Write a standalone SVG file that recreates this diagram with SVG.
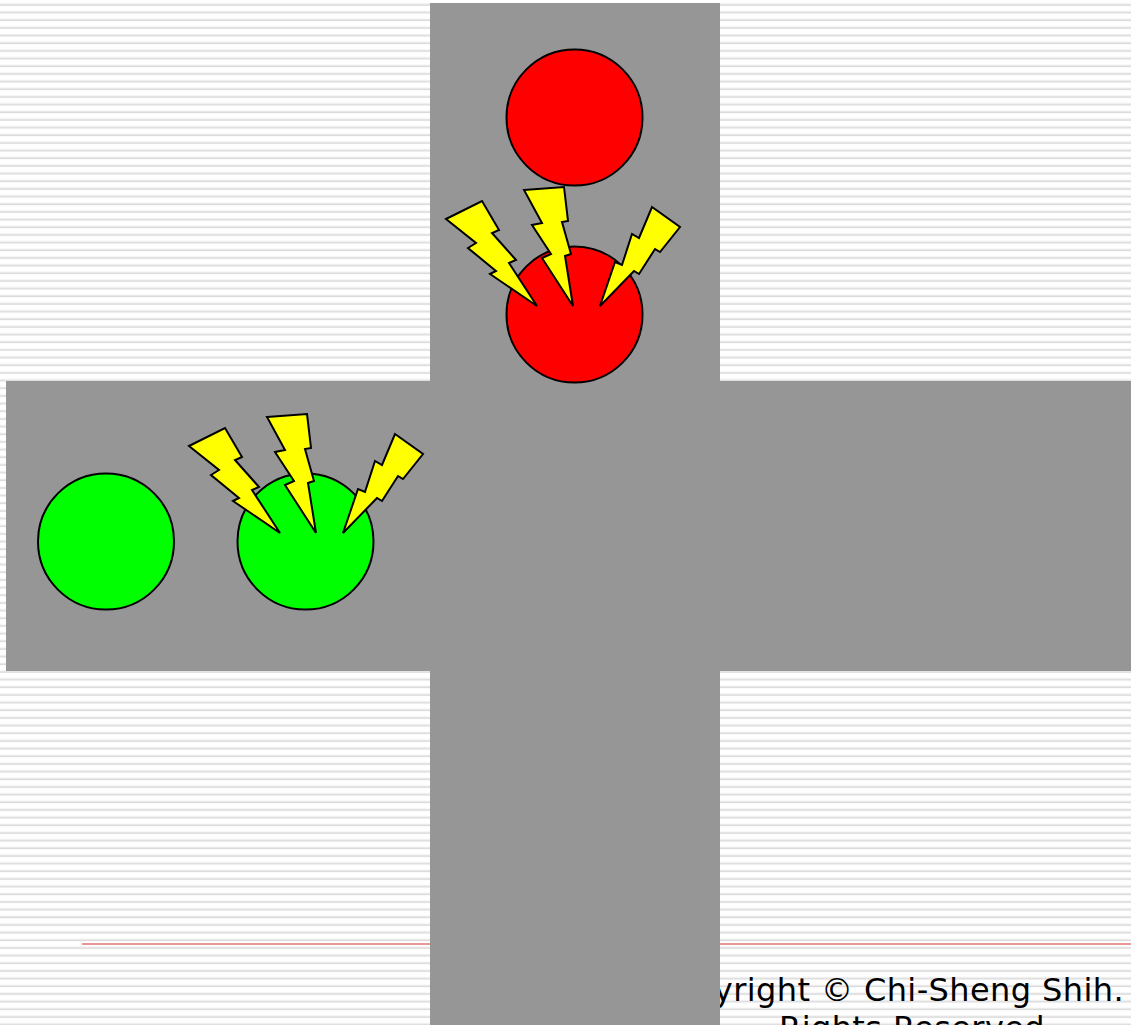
<svg xmlns="http://www.w3.org/2000/svg" xmlns:xlink="http://www.w3.org/1999/xlink" width="1131" height="1025" viewBox="0 0 1131 1025">
<style>
.road{fill:#969696}
.red{fill:#ff0000;stroke:#000;stroke-width:2}
.green{fill:#00ff00;stroke:#000;stroke-width:2}
.bolt{fill:#ffff00;stroke:#000;stroke-width:2;stroke-linejoin:miter}
.copy{font-family:"DejaVu Sans","Verdana",sans-serif;font-size:32px;fill:#000;letter-spacing:0.4px}
</style>
<defs>
<pattern id="stripes" patternUnits="userSpaceOnUse" width="20" height="7.667">
<rect x="0" y="0" width="20" height="7.667" fill="#ffffff"/>
<rect x="0" y="3.6" width="20" height="1" fill="#e6e6e6"/>
<rect x="0" y="4.6" width="20" height="1.2" fill="#dadada"/>
</pattern>
<g id="bolts">
<polygon class="bolt" points="446,219 482,201 499,230 492,233 516,260 509,263 537,306 490,274 496,271 468,248 476,243"/>
<polygon class="bolt" points="524,190 564,187 568,221 562,222 571,254 565,256 573,306 542,258 551,254 532,225 542,223"/>
<polygon class="bolt" points="652,207 680,227 660,252 655,249 639,274 634,271 600,306 615,262 622,265 632,234 639,238"/>
</g>
</defs>
<rect id="background" x="0" y="0" width="1131" height="1025" fill="url(#stripes)"/>
<line id="rule" x1="82" y1="944" x2="1131" y2="944" stroke="#e57373" stroke-width="1.6"/>
<g id="copyright">
<text class="copy" x="1124" y="1001" text-anchor="end">Copyright © Chi-Sheng Shih.</text>
<text class="copy" x="779" y="1039">Rights Reserved</text>
</g>
<g id="roads">
<rect class="road" x="430" y="3" width="290" height="1022"/>
<rect class="road" x="6" y="381" width="1125" height="290"/>
</g>
<g id="red-lights">
<circle class="red" cx="574.5" cy="117.5" r="68"/>
<circle class="red" cx="574.5" cy="314.5" r="68"/>
</g>
<g id="green-lights">
<circle class="green" cx="106" cy="541.5" r="68"/>
<circle class="green" cx="305.5" cy="541.5" r="68"/>
</g>
<g id="red-bolts">
<use xlink:href="#bolts" href="#bolts"/>
</g>
<g id="green-bolts">
<use xlink:href="#bolts" href="#bolts" transform="translate(-257,227)"/>
</g>
</svg>
